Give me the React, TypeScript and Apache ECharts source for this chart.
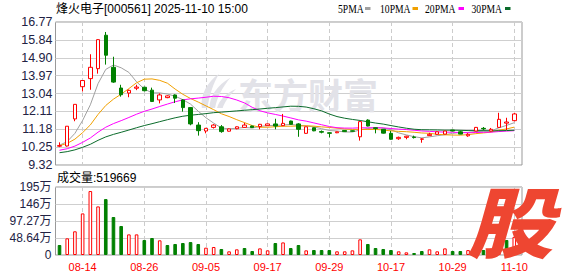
import React, { useEffect, useRef } from 'react';
import * as echarts from 'echarts';

const dates = ['08-11','08-12','08-13','08-14','08-15','08-18','08-19','08-20','08-21','08-22','08-25','08-26','08-27','08-28','08-29','09-01','09-02','09-03','09-04','09-05','09-08','09-09','09-10','09-11','09-12','09-15','09-16','09-17','09-18','09-19','09-22','09-23','09-24','09-25','09-26','09-29','09-30','10-09','10-10','10-13','10-14','10-15','10-16','10-17','10-20','10-21','10-22','10-23','10-24','10-27','10-28','10-29','10-30','10-31','11-03','11-04','11-05','11-06','11-07','11-10'];

const opens = [10.30, 10.31, 11.72, 13.40, 13.82, 14.34, 16.08, 14.41, 13.33, 13.07, 13.32, 13.37, 13.22, 12.71, 12.83, 12.97, 12.71, 12.31, 11.40, 11.09, 11.28, 11.31, 11.08, 11.21, 11.28, 11.35, 11.32, 11.37, 11.46, 11.37, 11.61, 11.46, 10.97, 11.26, 11.06, 11.00, 11.00, 11.12, 11.10, 10.79, 11.66, 11.26, 11.18, 10.97, 10.69, 10.76, 10.78, 10.66, 10.85, 10.92, 10.93, 11.14, 11.05, 10.84, 11.09, 11.23, 11.09, 11.28, 11.50, 11.63];
const closes = [10.33, 11.34, 12.48, 13.72, 14.41, 15.85, 15.04, 13.64, 12.98, 13.21, 13.38, 13.19, 12.63, 12.97, 12.92, 12.80, 12.31, 11.46, 11.11, 11.23, 11.40, 11.06, 11.20, 11.31, 11.40, 11.27, 11.44, 11.46, 11.35, 11.49, 11.44, 11.18, 11.31, 11.10, 11.03, 10.97, 11.05, 11.06, 11.08, 11.58, 11.35, 11.22, 10.98, 10.66, 10.76, 10.82, 10.75, 10.68, 10.92, 11.05, 11.09, 11.09, 10.93, 10.92, 11.28, 11.20, 11.18, 11.70, 11.56, 11.98];
const lows = [10.25, 10.28, 11.60, 13.15, 13.24, 14.08, 14.55, 13.60, 12.88, 12.85, 13.22, 13.15, 12.60, 12.53, 12.80, 12.55, 12.10, 11.39, 10.85, 10.97, 11.22, 11.00, 11.06, 11.18, 11.26, 11.25, 11.18, 11.36, 11.18, 11.35, 11.42, 10.79, 10.95, 11.08, 10.97, 10.76, 10.98, 11.04, 11.06, 10.59, 11.33, 10.97, 10.96, 10.64, 10.63, 10.66, 10.70, 10.48, 10.83, 10.90, 10.92, 11.07, 10.92, 10.79, 11.07, 11.12, 11.07, 11.26, 11.14, 11.60];
const highs = [10.50, 11.34, 12.48, 13.72, 15.09, 15.87, 16.25, 14.96, 13.50, 13.25, 13.50, 13.40, 13.35, 13.05, 12.95, 13.00, 12.75, 12.33, 11.55, 11.25, 11.45, 11.40, 11.22, 11.33, 11.52, 11.37, 11.46, 11.47, 11.73, 11.98, 11.63, 11.50, 11.31, 11.28, 11.12, 11.02, 11.06, 11.14, 11.12, 11.60, 11.70, 11.28, 11.20, 11.10, 10.80, 10.84, 10.85, 10.71, 11.00, 11.07, 11.10, 11.15, 11.12, 10.98, 11.30, 11.30, 11.25, 12.04, 11.78, 12.04];

// closes before the first visible day (needed for the moving averages)
const priorCloses = [9.66, 9.70, 9.74, 9.68, 9.64, 9.70, 9.72, 9.69, 9.73, 9.75, 9.78, 9.74, 9.80, 9.85, 9.82, 9.88, 9.86, 9.90, 9.92, 9.95, 10.18, 10.26, 10.34, 10.40, 10.37, 10.38, 10.34, 10.36, 10.34];

// volume in 万 (10k shares)
const volumes = [28.6, 47.7, 67.8, 119, 183, 139, 160, 108.7, 83, 59, 59, 43, 48.6, 42, 28.6, 31.5, 34.3, 37, 31.5, 21, 22.9, 17.2, 10.5, 16.2, 20, 11.4, 19, 13.3, 34.3, 36, 20, 28.6, 13.3, 14.3, 14.3, 14.3, 10.5, 10.5, 13.3, 44.8, 31.5, 20, 17.2, 14.3, 10.5, 7.6, 5.7, 11.4, 16.2, 10.5, 19, 11.4, 11.4, 14, 22, 14.3, 18, 40, 43, 51.9669];
// 1 = rising day (red hollow bar), 0 = falling day (green bar)
const volumeRise = [0, 1, 1, 1, 1, 1, 0, 0, 0, 1, 1, 0, 0, 1, 0, 0, 0, 0, 0, 1, 1, 0, 1, 1, 0, 0, 1, 1, 0, 1, 0, 0, 1, 0, 0, 0, 1, 1, 1, 1, 0, 0, 0, 0, 1, 1, 0, 0, 1, 1, 1, 0, 0, 1, 1, 0, 1, 1, 0, 1];

const priceTickLabels = ['9.32', '10.25', '11.18', '12.11', '13.04', '13.97', '14.90', '15.84', '16.77'];
const volumeTickLabels = ['0', '48.64万', '97.27万', '146万', '195万'];
const dateLabelIndices = [3, 11, 19, 27, 35, 43, 51, 59];

const maPeriods = [5, 10, 20, 30];
const maNames = ['5PMA', '10PMA', '20PMA', '30PMA'];
const maColors = ['#a0a0a0', '#f0a000', '#ff00ff', '#0b6b2b'];

const titleText = '烽火电子[000561] 2025-11-10 15:00';
const volumeText = '成交量:519669';

const UP = '#ff0000';
const DOWN = '#008000';

echarts.graphic.registerShape(
  'dfcfFlame',
  echarts.graphic.extendPath(
    'M4 38 C 2 24, 10 10, 22 2 C 16 12, 12 24, 10 38 Z M12 38 C 12 26, 20 14, 34 6 C 26 16, 20 26, 18 38 Z M20 38 C 22 30, 30 22, 40 18 C 32 26, 28 32, 26 38 Z',
    {}
  ) as any
);

function movingAverage(n: number): number[] {
  const all = priorCloses.concat(closes);
  const off = priorCloses.length;
  return closes.map((_, i) => {
    let s = 0;
    for (let k = 0; k < n; k++) s += all[off + i - k];
    return +(s / n).toFixed(3);
  });
}

export default function App() {
  const ref = useRef<HTMLDivElement>(null);
  useEffect(() => {
    if (!ref.current) return;
    const chart = echarts.init(ref.current, null, { renderer: 'svg' });
    const priceTicks = priceTickLabels.map((s) => parseFloat(s));
    const pMin = priceTicks[0];
    const pMax = priceTicks[priceTicks.length - 1];
    const vStep = 48.64;
    const vMax = vStep * 4;
    const sansFont = '"Liberation Sans", "Noto Sans CJK SC", sans-serif';
    const axisLabelColor = '#222244';

    const candleData = closes.map((c, i) => [i, opens[i], c, lows[i], highs[i]]);
    const volData = volumes.map((v, i) => ({
      value: [i, v],
      itemStyle: volumeRise[i]
        ? { color: '#ffffff', borderColor: UP, borderWidth: 1 }
        : { color: DOWN, borderColor: DOWN, borderWidth: 1 },
    }));

    const maSeries = maPeriods.map((p, k) => ({
      type: 'line',
      name: maNames[k],
      xAxisIndex: 0,
      yAxisIndex: 0,
      data: movingAverage(p).map((v, i) => [i, v]),
      symbol: 'none',
      showSymbol: false,
      lineStyle: { color: maColors[k], width: 1 },
      z: 2,
      silent: true,
    }));

    const legendX = [338, 380, 425, 471.5];
    const markerX = [365, 412.5, 458.5, 505];
    const legendGraphics: any[] = [];
    maNames.forEach((n, k) => {
      legendGraphics.push({
        type: 'text',
        x: legendX[k],
        y: 9,
        scaleX: 0.84,
        style: {
          text: n,
          fill: '#000',
          fontSize: 11.5,
          fontFamily: '"Liberation Serif", serif',
          verticalAlign: 'middle',
          align: 'left',
        },
      });
      legendGraphics.push({
        type: 'rect',
        shape: { x: markerX[k], y: 7, width: 5.5, height: 3 },
        style: { fill: maColors[k] },
      });
    });

    const option: any = {
      animation: false,
      backgroundColor: '#ffffff',
      grid: [
        { left: 55.5, right: 56, top: 22, height: 143, show: true, borderColor: '#999999', borderWidth: 1, backgroundColor: 'transparent' },
        { left: 55.5, right: 56, top: 187, height: 68, show: true, borderColor: '#999999', borderWidth: 1, backgroundColor: 'transparent' },
      ],
      xAxis: [
        {
          type: 'value',
          gridIndex: 0,
          min: -0.52,
          max: 60,
          axisLine: { show: false },
          axisTick: { show: false, customValues: dateLabelIndices },
          axisLabel: { show: false, customValues: dateLabelIndices },
          splitLine: { show: true, lineStyle: { color: '#cccccc', type: [4, 3], width: 1 } },
        },
        {
          type: 'value',
          gridIndex: 1,
          min: -0.52,
          max: 60,
          axisLine: { show: false },
          axisTick: { show: false, customValues: dateLabelIndices },
          axisLabel: {
            show: true,
            customValues: dateLabelIndices,
            formatter: (v: number) => dates[Math.round(v)] || '',
            color: '#ff0000',
            fontSize: 11,
            fontFamily: sansFont,
            margin: 6,
          },
          splitLine: { show: true, lineStyle: { color: '#cccccc', type: [4, 3], width: 1 } },
        },
      ],
      yAxis: [
        {
          type: 'value',
          gridIndex: 0,
          min: pMin,
          max: pMax,
          axisLine: { show: false },
          axisTick: { show: false, customValues: priceTicks },
          axisLabel: {
            customValues: priceTicks,
            formatter: (v: number) => {
              const idx = priceTicks.findIndex((t) => Math.abs(t - v) < 1e-6);
              return idx >= 0 ? priceTickLabels[idx] : '';
            },
            color: axisLabelColor,
            fontSize: 12.5,
            fontFamily: sansFont,
            margin: 3,
          },
          splitLine: { show: true, lineStyle: { color: '#cfcfcf', width: 1 } },
        },
        {
          type: 'value',
          gridIndex: 1,
          min: 0,
          max: vMax,
          interval: vStep,
          axisLine: { show: false },
          axisTick: { show: false },
          axisLabel: {
            formatter: (v: number) => volumeTickLabels[Math.round(v / vStep)] || '',
            color: axisLabelColor,
            fontSize: 12,
            fontFamily: sansFont,
            margin: 4,
          },
          splitLine: { show: true, lineStyle: { color: '#cfcfcf', width: 1 } },
        },
      ],
      series: [
        ...maSeries,
        {
          type: 'candlestick',
          xAxisIndex: 0,
          yAxisIndex: 0,
          data: candleData,
          encode: { x: 0, y: [1, 2, 3, 4] },
          barWidth: 4,
          z: 3,
          silent: true,
          itemStyle: {
            color: '#ffffff',
            color0: DOWN,
            borderColor: UP,
            borderColor0: DOWN,
            borderWidth: 1,
          },
        },
        {
          type: 'bar',
          xAxisIndex: 1,
          yAxisIndex: 1,
          data: volData,
          barWidth: 3.6,
          silent: true,
          z: 3,
        },
      ],
      graphic: [
        {
          type: 'dfcfFlame',
          x: 198,
          y: 72,
          scaleX: 0.95,
          scaleY: 0.95,
          z: 1,
          silent: true,
          style: { fill: '#e2e2e8' },
        },
        {
          type: 'text',
          x: 238,
          y: 93,
          z: 1,
          silent: true,
          style: {
            text: '东方财富',
            fill: '#e2e2e8',
            fontSize: 35,
            fontWeight: 'bold',
            fontFamily: '"Noto Sans CJK SC", sans-serif',
            verticalAlign: 'middle',
            align: 'left',
          },
        },
        {
          type: 'text',
          x: 56,
          y: 8.5,
          style: {
            text: titleText,
            fill: '#000000',
            fontSize: 12,
            fontFamily: sansFont,
            verticalAlign: 'middle',
            align: 'left',
          },
        },
        ...legendGraphics,
        {
          type: 'text',
          x: 57,
          y: 177.5,
          style: {
            text: volumeText,
            fill: '#000000',
            fontSize: 12,
            fontFamily: sansFont,
            verticalAlign: 'middle',
            align: 'left',
          },
        },
        {
          type: 'text',
          x: 510,
          y: 219,
          scaleX: 1.12,
          z: 100,
          silent: true,
          style: {
            text: '股',
            fill: '#ee4631',
            fontSize: 77,
            fontWeight: 900,
            fontStyle: 'italic',
            fontFamily: '"Noto Sans CJK SC", sans-serif',
            verticalAlign: 'middle',
            align: 'center',
          },
        },
      ],
    };
    chart.setOption(option);
    return () => chart.dispose();
  }, []);
  return (
    <div
      ref={ref}
      style={{ position: 'fixed', left: 0, top: 0, width: 578, height: 276, background: '#fff' }}
    />
  );
}
